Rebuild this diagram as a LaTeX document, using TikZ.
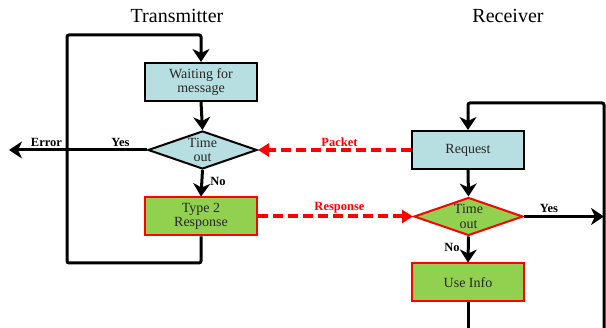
\documentclass[tikz,border=0pt]{standalone}
\usepackage{fontspec}
\setmainfont{Liberation Serif}
\usetikzlibrary{shapes.geometric,arrows.meta}
\definecolor{boxblue}{RGB}{183,222,224}
\definecolor{boxgreen}{RGB}{146,208,80}
\definecolor{linered}{RGB}{255,0,0}
\definecolor{txt}{RGB}{40,40,40}
\begin{document}
\begin{tikzpicture}[x=1pt,y=-1pt,
  proc/.style={draw=black, line width=2pt, fill=boxblue, minimum width=112pt, minimum height=38pt,
    inner sep=0pt, align=center, text=txt, font=\fontsize{14}{14.5}\selectfont},
  procg/.style={proc, draw=linered, fill=boxgreen},
  dec/.style={diamond, aspect=2.8, draw=black, line width=2pt, fill=boxblue, minimum width=109pt,
    minimum height=38pt, inner sep=0pt, align=center, text=txt, font=\fontsize{14}{14.5}\selectfont},
  decg/.style={dec, draw=linered, fill=boxgreen},
  flow/.style={line width=3pt, -{Stealth[length=13pt,width=17pt,inset=4pt]}},
  plainline/.style={line width=3pt},
  msg/.style={line width=4pt, linered, dash pattern=on 10pt off 5pt, -{Triangle[length=11pt,width=13pt]}},
  lab/.style={font=\bfseries\fontsize{12.5}{13}\selectfont, text=black},
  rlab/.style={lab, text=linered},
  title/.style={font=\fontsize{20}{22}\selectfont}
]
\useasboundingbox (0,0) rectangle (606,328);

\node[title] (tt) at (177,16) {Transmitter};
\node[title] (rt) at (508,16) {Receiver};

\node[proc] (wait) at (201,82) {Waiting for\\message};
\node[dec] (tdec) at (202.5,150) {Time\\out};
\node[procg] (t2) at (201,216.5) {Type 2\\Response};

\node[proc] (req) at (468,150) {Request};
\node[decg] (rdec) at (468.5,216.5) {Time\\out};
\node[procg] (use) at (468,282.5) {Use Info};

\coordinate (tl1) at (67,263);
\coordinate (tl2) at (67,35);
\coordinate (err) at (9,150);
\coordinate (rl1) at (604,103);
\coordinate (rl2) at (604,330);
\coordinate (ry) at (604,216.5);
\coordinate (ub) at (468,330);

\draw[flow, rounded corners=2pt] (t2.south) |- (tl1) -- (tl2) -| (wait.north);
\draw[flow] (wait.south) -- (tdec.north);
\draw[flow] (tdec.south) -- (t2.north);
\draw[flow] (tdec.west) -- (err);

\draw[flow, rounded corners=2pt] (rl2) -- (rl1) -| (req.north);
\draw[flow] (req.south) -- (rdec.north);
\draw[flow] (rdec.south) -- (use.north);
\draw[flow] (rdec.east) -- (ry);
\draw[plainline] (use.south) -- (ub);

\draw[msg] (req.west) -- (tdec.east);
\draw[msg] (t2.east) -- (rdec.west);

\node[lab] (lerr) at (46.5,142) {Error};
\node[lab] (lyes1) at (120.5,142) {Yes};
\node[lab] (lno1) at (218,181) {No};
\node[rlab] (lpk) at (339.5,142) {Packet};
\node[rlab] (lrs) at (339.5,208) {Response};
\node[lab] (lyes2) at (549,208) {Yes};
\node[lab] (lno2) at (452,247) {No};
\end{tikzpicture}
\end{document}
